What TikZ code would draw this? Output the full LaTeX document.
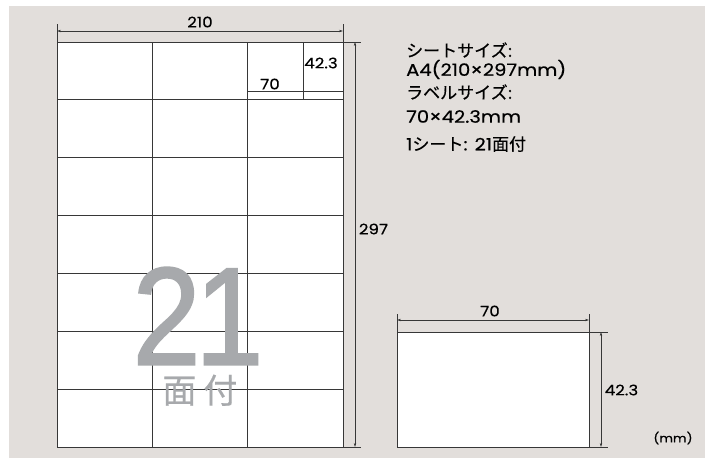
\documentclass[tikz,border=0pt]{standalone}
\usepackage{fontspec}
\setmainfont[FakeStretch=1.15,FakeBold=0.4]{Poppins}
\newfontfamily\jpfont[FakeBold=0.4]{Noto Sans CJK JP}
\newfontfamily\bigfont[FakeBold=1.6]{Liberation Sans}
\usetikzlibrary{arrows.meta,positioning}
\definecolor{bgpaper}{RGB}{226,222,219}
\definecolor{numgray}{RGB}{167,169,172}
\definecolor{linegray}{RGB}{55,55,55}

\tikzset{
  dimline/.style={linegray, line width=0.6pt, {Stealth[length=4pt,width=2.4pt]}-{Stealth[length=4pt,width=2.4pt]}},
  thinline/.style={linegray, line width=0.6pt},
  gridline/.style={linegray, line width=0.8pt},
  dimlabel/.style={inner sep=0pt, font=\fontsize{14.5}{14.5}\selectfont},
  spectext/.style={anchor=west, inner sep=0pt, font=\fontsize{17}{17}\selectfont}
}

\begin{document}
\begin{tikzpicture}[x=1pt,y=-1pt]
      \useasboundingbox (0,0) rectangle (705,458);
      \fill [bgpaper] (9,6) rectangle (705,458);
      % A4 sheet, 3 x 7 labels
      \coordinate (sheet nw) at (57,42);
      \coordinate (sheet se) at (343,447);
      \fill [white] (sheet nw) rectangle (sheet se);
      \foreach \r in {1,...,6}
        \draw [gridline] (57,{42+\r*57.86}) -- (343,{42+\r*57.86});
      \foreach \c in {1,2}
        \draw [gridline] ({57+\c*95.33},42) -- ({57+\c*95.33},447);
      \draw [gridline] (sheet nw) rectangle (sheet se);
      % big 21
      \node [numgray, inner sep=0pt, text depth=0pt, xscale=0.88, font=\bigfont\fontsize{139}{139}\selectfont] (big21) at (198,316) {2\kern-6pt1};
      \node [numgray, inner sep=0pt, text height=26pt, text depth=2pt, font=\jpfont\fontsize{34}{34}\selectfont] (menzuke) at (200,391) {面\hspace{7pt}付};
      % one label size inside the top right cell
      \coordinate (cell w) at (248,91);
      \coordinate (cell e) at (343,91);
      \coordinate (cell n) at (303,42);
      \coordinate (cell s) at (303,99.86);
      \draw [thinline] (cell w) -- (cell e);
      \draw [thinline] (cell n) -- (cell s);
      \node [dimlabel] (cellw70) at (270,84) {70};
      \node [dimlabel] (cellh423) at (321,63) {42.3};
      % width of the sheet
      \coordinate (w210 l) at (57,24);
      \coordinate (w210 r) at (343,24);
      \coordinate (w210 la) at (57,31);
      \coordinate (w210 ra) at (343,31);
      \draw [thinline] (w210 l) -- (sheet nw);
      \draw [thinline] (w210 r) -- (343,42);
      \draw [dimline] (w210 la) -- (w210 ra);
      \node [dimlabel] (w210) at (200,22) {210};
      % height of the sheet
      \coordinate (h297 t) at (361,42);
      \coordinate (h297 b) at (361,447);
      \coordinate (h297 ta) at (355,42);
      \coordinate (h297 ba) at (355,447);
      \draw [thinline] (343,42) -- (h297 t);
      \draw [thinline] (sheet se) -- (h297 b);
      \draw [dimline] (h297 ta) -- (h297 ba);
      \node [dimlabel] (h297) at (373.5,229) {297};
      % specification
      \node [spectext] (spec1) at (406,50) {\jpfont シートサイズ:};
      \node [spectext] (spec2) at (406,69.5) {A4(210×297mm)};
      \node [spectext] (spec3) at (406,92) {\jpfont ラベルサイズ:};
      \node [spectext] (spec4) at (406,116.5) {70×42.3mm};
      \node [spectext] (spec5) at (406,144) {1{\jpfont シート}: 21{\jpfont 面付}};
      % single label
      \coordinate (lab nw) at (397,332);
      \coordinate (lab se) at (589,447);
      \fill [white] (lab nw) rectangle (lab se);
      \draw [gridline] (lab nw) rectangle (lab se);
      \coordinate (w70 l) at (397,314);
      \coordinate (w70 r) at (589,314);
      \coordinate (w70 la) at (397,320);
      \coordinate (w70 ra) at (589,320);
      \draw [thinline] (w70 l) -- (lab nw);
      \draw [thinline] (w70 r) -- (589,332);
      \draw [dimline] (w70 la) -- (w70 ra);
      \node [dimlabel] (w70) at (490,311) {70};
      \coordinate (h423 t) at (608,332);
      \coordinate (h423 b) at (608,447);
      \coordinate (h423 ta) at (601,332);
      \coordinate (h423 ba) at (601,447);
      \draw [thinline] (589,332) -- (h423 t);
      \draw [thinline] (lab se) -- (h423 b);
      \draw [dimline] (h423 ta) -- (h423 ba);
      \node [dimlabel] (h423) at (621.5,390) {42.3};
      \node [dimlabel, font=\fontsize{11.5}{11.5}\selectfont] (unit) at (673,438) {(mm)};
\end{tikzpicture}
\end{document}
